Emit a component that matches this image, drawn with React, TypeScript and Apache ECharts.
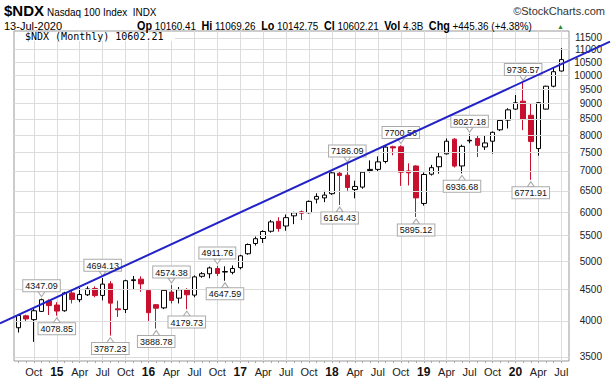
import React, { useEffect, useRef } from 'react';
import * as echarts from 'echarts';

const months = [
  'Aug 14', 'Sep 14', 'Oct 14', 'Nov 14', 'Dec 14',
  'Jan 15', 'Feb 15', 'Mar 15', 'Apr 15', 'May 15', 'Jun 15', 'Jul 15', 'Aug 15', 'Sep 15', 'Oct 15', 'Nov 15', 'Dec 15',
  'Jan 16', 'Feb 16', 'Mar 16', 'Apr 16', 'May 16', 'Jun 16', 'Jul 16', 'Aug 16', 'Sep 16', 'Oct 16', 'Nov 16', 'Dec 16',
  'Jan 17', 'Feb 17', 'Mar 17', 'Apr 17', 'May 17', 'Jun 17', 'Jul 17', 'Aug 17', 'Sep 17', 'Oct 17', 'Nov 17', 'Dec 17',
  'Jan 18', 'Feb 18', 'Mar 18', 'Apr 18', 'May 18', 'Jun 18', 'Jul 18', 'Aug 18', 'Sep 18', 'Oct 18', 'Nov 18', 'Dec 18',
  'Jan 19', 'Feb 19', 'Mar 19', 'Apr 19', 'May 19', 'Jun 19', 'Jul 19', 'Aug 19', 'Sep 19', 'Oct 19', 'Nov 19', 'Dec 19',
  'Jan 20', 'Feb 20', 'Mar 20', 'Apr 20', 'May 20', 'Jun 20', 'Jul 20',
];

const opens = [
  3900, 4078, 4020, 4145, 4310,
  4245, 4155, 4440, 4330, 4410, 4515, 4400, 4595, 4185, 4175, 4650, 4675,
  4480, 4250, 4200, 4455, 4355, 4495, 4405, 4725, 4770, 4865, 4800, 4795,
  4880, 5140, 5340, 5440, 5590, 5800, 5700, 5920, 6010, 5990, 6300, 6330,
  6430, 6940, 6890, 6530, 6590, 7010, 7040, 7250, 7660, 7660, 7000, 7130,
  6200, 6915, 7110, 7460, 7880, 7130, 7830, 7900, 7655, 7820, 8160, 8460,
  8815, 9080, 8615, 7608, 8815, 9600, 10160.41,
];
const highs = [
  4085, 4095, 4185, 4347.09, 4335,
  4290, 4460, 4485, 4530, 4550, 4550, 4694.13, 4640, 4315, 4665, 4730, 4725,
  4500, 4260, 4500, 4574.38, 4540, 4520, 4740, 4800, 4900, 4911.76, 4905, 4920,
  5120, 5340, 5480, 5610, 5830, 5890, 5950, 6010, 6040, 6270, 6440, 6500,
  7022, 6995, 7186.09, 6750, 6995, 7280, 7390, 7696, 7690, 7700.56, 7200, 7150,
  6960, 7160, 7490, 7900, 7910, 7720, 8027.18, 7990, 7995, 8110, 8470, 8845,
  9290, 9736.57, 8990, 9050, 9620, 10290, 11069.26,
];
const lows = [
  3831, 3990, 3700, 4135, 4090,
  4078.85, 4140, 4270, 4290, 4390, 4370, 4320, 3787.23, 4060, 4120, 4500, 4460,
  3985, 3888.78, 4180, 4270, 4270, 4179.73, 4370, 4700, 4690, 4730, 4647.59, 4760,
  4850, 5120, 5300, 5350, 5560, 5580, 5600, 5740, 5830, 5970, 6200, 6230,
  6400, 6164.43, 6500, 6320, 6550, 6960, 6980, 7200, 7420, 6620, 6630, 5895.12,
  6150, 6880, 6930, 7440, 7090, 6936.68, 7760, 7370, 7570, 7465, 8120, 8200,
  8790, 8150, 6771.91, 7410, 8800, 9560, 10142.75,
];
const closes = [
  4082, 4030, 4155, 4330, 4236,
  4150, 4440, 4334, 4415, 4508, 4397, 4589, 4275, 4170, 4648, 4664, 4593,
  4125, 4195, 4484, 4318, 4494, 4410, 4715, 4771, 4875, 4775, 4810, 4864,
  5100, 5320, 5436, 5584, 5788, 5647, 5880, 5988, 5979, 6248, 6365, 6397,
  6950, 6880, 6581, 6606, 6967, 7040, 7240, 7650, 7627, 6968, 6950, 6330,
  6907, 7085, 7378, 7820, 7127, 7671, 7848, 7700, 7770, 8084, 8450, 8790,
  9025, 8490, 7813, 9030, 9600, 10135, 10602.21,
];

const priceTicks = [3500, 4000, 4500, 5000, 5500, 6000, 6500, 7000, 7500, 8000, 8500, 9000, 9500, 10000, 10500, 11000, 11500];
const highNotes = ['Nov 14', 'Jul 15', 'Apr 16', 'Oct 16', 'Mar 18', 'Oct 18', 'Jul 19', 'Feb 20'];
const lowNotes = ['Jan 15', 'Aug 15', 'Feb 16', 'Jun 16', 'Nov 16', 'Feb 18', 'Dec 18', 'Jun 19', 'Mar 20'];
// trend line end points [month index, price]
const trendStart = [-2.43, 3963];
const trendEnd = [77.36, 11338];

const quoteKeys = ['Op', 'Hi', 'Lo', 'Cl', 'Vol', 'Chg'];
const quoteVals = ['10160.41', '11069.26', '10142.75', '10602.21', '4.3B', '+445.36 (+4.38%)'];

const FONT = 'Liberation Sans, Arial, sans-serif';

export default function App() {
  const ref = useRef<HTMLDivElement>(null);
  useEffect(() => {
    const chart = echarts.init(ref.current!, null, { renderer: 'svg' });
    const tickIdx = months
      .map((m, i) => (['Jan', 'Apr', 'Jul', 'Oct'].includes(m.split(' ')[0]) ? i : -1))
      .filter((i) => i >= 0);
    const allIdx = months.map((_, i) => i);
    const candles = months.map((_, i) => [i, opens[i], closes[i], lows[i], highs[i]]);

    const notePoint = (m: string, kind: 'high' | 'low') => {
      const i = months.indexOf(m);
      const v = kind === 'high' ? highs[i] : lows[i];
      const up = kind === 'high';
      return {
        coord: [i, v],
        value: v,
        symbol: up ? 'path://M0,0L10,0L5,7Z' : 'path://M5,0L10,7L0,7Z',
        symbolSize: [7, 5],
        symbolOffset: [0, up ? -4.5 : 4.5],
        itemStyle: { color: '#fff', borderColor: '#aaa', borderWidth: 1 },
        label: { position: up ? 'top' : 'bottom' },
      };
    };

    const quoteText = quoteKeys.map((k, i) => `{k|${k}} ${quoteVals[i]}`).join('  ');

    const option: any = {
      animation: false,
      backgroundColor: '#fff',
      textStyle: { fontFamily: FONT },
      grid: {
        left: 14, right: 43, top: 31, bottom: 18,
        show: true, borderColor: '#999', borderWidth: 1, backgroundColor: '#fff',
      },
      xAxis: [
        {
          type: 'value', min: -0.6, max: 72,
          axisLine: { show: false },
          axisTick: { show: false, customValues: tickIdx },
          splitLine: { show: true, lineStyle: { color: '#dcdcdc', width: 1 } },
          axisLabel: {
            customValues: tickIdx,
            margin: 5,
            fontSize: 11,
            color: '#222',
            fontFamily: FONT,
            formatter: (v: number) => {
              const [ab, yy] = months[Math.round(v)].split(' ');
              return ab === 'Jan' ? `{b|${yy}}` : ab;
            },
            rich: { b: { fontWeight: 'bold', fontSize: 12, color: '#111', fontFamily: FONT } },
          },
        },
        {
          type: 'value', min: -0.6, max: 72, position: 'bottom',
          axisLine: { show: false },
          axisTick: { show: true, customValues: allIdx, length: 2, lineStyle: { color: '#aaa' } },
          axisLabel: { show: false },
          splitLine: { show: false },
        },
      ],
      yAxis: {
        type: 'log', logBase: 10, min: 3445, max: 11796, position: 'right',
        axisLine: { show: false }, axisTick: { show: false },
        axisLabel: { show: false }, splitLine: { show: false },
      },
      series: [
        {
          type: 'line',
          data: [],
          z: 1,
          silent: true,
          markLine: {
            silent: true,
            symbol: 'none',
            animation: false,
            lineStyle: { color: '#dcdcdc', type: 'solid', width: 1 },
            label: {
              show: true,
              position: 'end',
              distance: 33,
              align: 'right',
              fontSize: 10,
              color: '#222',
              fontFamily: FONT,
              formatter: (p: any) => String(p.value),
            },
            emphasis: { disabled: true },
            data: priceTicks.map((v) => ({ yAxis: v })),
          },
        },
        {
          type: 'candlestick',
          data: candles,
          encode: { x: 0, y: [1, 2, 3, 4] },
          barWidth: 5,
          z: 3,
          itemStyle: {
            color: '#ffffff',
            color0: '#c8102e',
            borderColor: '#000000',
            borderColor0: '#c8102e',
            borderColorDoji: '#000000',
            borderWidth: 1,
          },
          markPoint: {
            silent: true,
            animation: false,
            label: {
              show: true,
              distance: 0,
              fontSize: 9,
              fontFamily: FONT,
              color: '#111',
              backgroundColor: '#fff',
              borderColor: '#aaa',
              borderWidth: 1,
              padding: [1, 2, 0, 2],
              lineHeight: 10,
              formatter: (p: any) => Number(p.value).toFixed(2),
            },
            data: [
              ...highNotes.map((m) => notePoint(m, 'high')),
              ...lowNotes.map((m) => notePoint(m, 'low')),
            ],
          },
        },
      ],
      graphic: [
        { type: 'text', x: 4, y: 10.5, z: 10, style: { text: '$NDX', fill: '#000', font: `bold 15px ${FONT}`, verticalAlign: 'middle' } },
        { type: 'text', x: 47, y: 12, z: 10, scaleX: 0.9, style: { text: 'Nasdaq 100 Index  INDX', fill: '#000', font: `11px ${FONT}`, verticalAlign: 'middle' } },
        { type: 'text', x: 605, y: 11, z: 10, style: { text: '©StockCharts.com', fill: '#333', font: `11px ${FONT}`, align: 'right', verticalAlign: 'middle' } },
        { type: 'text', x: 4, y: 26, z: 10, style: { text: '13-Jul-2020', fill: '#000', font: `11px ${FONT}`, verticalAlign: 'middle' } },
        {
          type: 'text', x: 137, y: 26, z: 10, scaleX: 0.9,
          style: {
            text: quoteText, fill: '#000', font: `11px ${FONT}`, verticalAlign: 'middle',
            rich: { k: { fontWeight: 'bold', fontSize: 12, fontFamily: FONT, fill: '#000' } },
          },
        },
        { type: 'text', x: 557, y: 26, z: 10, style: { text: '▲', fill: '#2a8a2a', font: `7px ${FONT}`, verticalAlign: 'middle' } },
        { type: 'rect', z: 9, shape: { x: 15, y: 32, width: 160, height: 9 }, style: { fill: '#fff' } },
        {
          type: 'group', z: 10,
          children: [
            { type: 'line', shape: { x1: 17, y1: 32.5, x2: 17, y2: 39.5 }, style: { stroke: '#000', lineWidth: 1 } },
            { type: 'line', shape: { x1: 15.5, y1: 34.5, x2: 17, y2: 34.5 }, style: { stroke: '#000', lineWidth: 1 } },
            { type: 'line', shape: { x1: 17, y1: 37.5, x2: 18.5, y2: 37.5 }, style: { stroke: '#000', lineWidth: 1 } },
            { type: 'line', shape: { x1: 21, y1: 33.5, x2: 21, y2: 39.5 }, style: { stroke: '#000', lineWidth: 1 } },
            { type: 'line', shape: { x1: 19.5, y1: 37.5, x2: 21, y2: 37.5 }, style: { stroke: '#000', lineWidth: 1 } },
            { type: 'line', shape: { x1: 21, y1: 35.5, x2: 22.5, y2: 35.5 }, style: { stroke: '#000', lineWidth: 1 } },
          ],
        },
        { type: 'text', x: 25, y: 36.5, z: 10, style: { text: `$NDX (Monthly) ${closes[closes.length - 1].toFixed(2)}`, fill: '#000', font: `10px DejaVu Sans Mono, monospace`, verticalAlign: 'middle' } },
      ],
    };
    chart.setOption(option);

    // trend line: endpoints mapped through the chart's own axes
    const p1 = chart.convertToPixel({ xAxisIndex: 0, yAxisIndex: 0 }, trendStart) as number[];
    const p2 = chart.convertToPixel({ xAxisIndex: 0, yAxisIndex: 0 }, trendEnd) as number[];
    if (p1 && p2) {
      chart.setOption({
        graphic: {
          elements: [
            {
              id: 'trend', type: 'line', z: 8, silent: true,
              shape: { x1: p1[0], y1: p1[1], x2: p2[0], y2: p2[1] },
              style: { stroke: '#2222c8', lineWidth: 2 },
            },
          ],
        },
      });
    }
    return () => chart.dispose();
  }, []);
  return <div ref={ref} style={{ position: 'absolute', left: 0, top: 0, width: 612, height: 379 }} />;
}
